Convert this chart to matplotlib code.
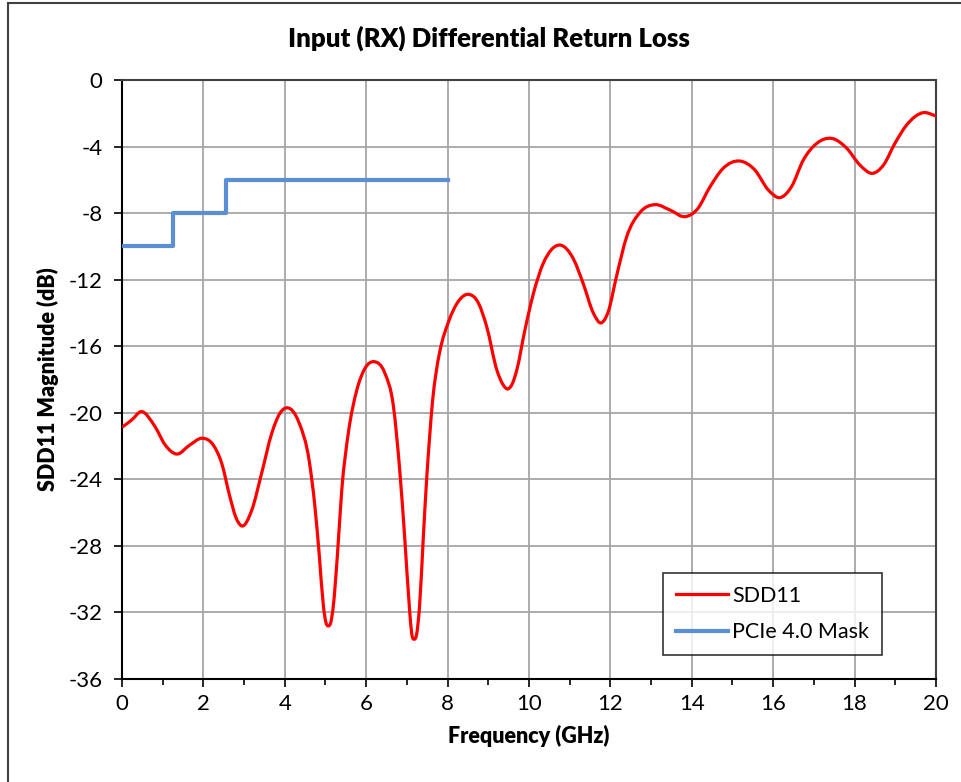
import numpy as np
import matplotlib
matplotlib.use('Agg')
matplotlib.rcParams['font.family'] = ['Lato', 'DejaVu Sans']
matplotlib.rcParams['axes.unicode_minus'] = False
import matplotlib.pyplot as plt
from matplotlib.lines import Line2D
from matplotlib.path import Path
from matplotlib.patches import PathPatch

# SDD11 (GHz, dB)
freq = [0.0, 0.24, 0.47, 0.81, 1.06, 1.34, 1.67, 1.97, 2.24, 2.45, 2.65, 2.80,
        2.94, 3.19, 3.43, 3.68, 3.88, 4.07, 4.35, 4.60, 4.74, 4.85, 4.95, 5.01,
        5.07, 5.13, 5.19, 5.29, 5.40, 5.56, 5.77, 5.97, 6.20, 6.46, 6.67, 6.83,
        6.95, 7.06, 7.12, 7.18, 7.24, 7.31, 7.40, 7.49, 7.56, 7.63, 7.71, 7.81,
        8.02, 8.26, 8.51, 8.76, 8.96, 9.21, 9.36, 9.48, 9.60, 9.70, 9.90, 10.11,
        10.35, 10.55, 10.76, 11.09, 11.33, 11.58, 11.77, 11.95, 12.15, 12.40, 12.73,
        13.10, 13.46, 13.85, 14.14, 14.45, 14.77, 15.18, 15.55, 15.88, 16.17,
        16.45, 16.74, 17.07, 17.44, 17.81, 18.13, 18.44, 18.71, 18.99, 19.28,
        19.69, 20.0]
sdd11 = [-20.87, -20.43, -19.93, -20.83, -21.93, -22.48, -21.93, -21.53, -21.93,
         -23.04, -25.04, -26.30, -26.80, -25.84, -23.64, -21.23, -20.03, -19.70,
         -20.60, -22.90, -25.64, -28.65, -31.65, -32.60, -32.81, -32.60, -31.65,
         -28.65, -24.64, -21.23, -18.63, -17.33, -16.93, -17.63, -19.63, -23.64,
         -27.64, -31.65, -33.30, -33.61, -33.30, -31.65, -27.64, -23.80, -21.40,
         -19.30, -17.70, -16.30, -14.55, -13.32, -12.88, -13.42, -14.82, -17.43,
         -18.30, -18.57, -18.20, -17.43, -15.02, -12.82, -11.02, -10.20, -9.92,
         -10.75, -12.22, -14.00, -14.60, -13.90, -11.80, -9.42, -7.95, -7.49,
         -7.81, -8.21, -7.75, -6.41, -5.31, -4.87, -5.41, -6.61, -7.07, -6.41,
         -4.81, -3.81, -3.51, -4.11, -5.11, -5.61, -5.11, -3.81, -2.70, -1.96,
         -2.16]

# PCIe 4.0 mask
mask_freq = [0, 1.25, 1.25, 2.55, 2.55, 8]
mask_db = [-10, -10, -8, -8, -6, -6]


def smooth_path(xs, ys):
    # smoothed line: cubic Bezier (Hermite) segments through every point
    x = np.asarray(xs, float)
    y = np.asarray(ys, float)
    h = np.diff(x)
    d = np.diff(y) / h
    m = np.empty_like(y)
    m[0], m[-1] = d[0], d[-1]
    m[1:-1] = (d[1:] * h[:-1] + d[:-1] * h[1:]) / (h[:-1] + h[1:])
    verts = [(x[0], y[0])]
    codes = [Path.MOVETO]
    for i in range(len(x) - 1):
        verts += [(x[i] + h[i] / 3, y[i] + m[i] * h[i] / 3),
                  (x[i + 1] - h[i] / 3, y[i + 1] - m[i + 1] * h[i] / 3),
                  (x[i + 1], y[i + 1])]
        codes += [Path.CURVE4] * 3
    return Path(verts, codes)


fig = plt.figure(figsize=(9.62, 7.82), dpi=100)
ax = fig.add_axes([122/962, 1-679/782, (936-122)/962, (679-80)/782])

red = '#FF0000'
blue = '#5A8FD6'
ax.add_patch(PathPatch(smooth_path(freq, sdd11), fill=False, edgecolor=red,
                       lw=2.3, joinstyle='round', zorder=3))
ax.plot(mask_freq, mask_db, color=blue, lw=3.0, zorder=3)

ax.set_xlim(0, 20)
ax.set_ylim(-36, 0)
ax.set_xticks(np.arange(0, 21, 2))
ax.set_xticks(np.arange(1, 20, 2), minor=True)
ax.set_yticks(np.arange(-36, 1, 4))
ax.grid(True, color='#A6A6A6', lw=1.3)
ax.set_axisbelow(True)
ax.tick_params(axis='both', which='major', direction='out', length=6, width=1.2,
               labelsize=16, pad=5)
ax.tick_params(axis='y', which='major', pad=8)
ax.tick_params(axis='x', which='minor', direction='out', length=4, width=1.2)
for s in ['left', 'bottom']:
    ax.spines[s].set_color('black')
    ax.spines[s].set_linewidth(1.5)
for s in ['top', 'right']:
    ax.spines[s].set_color('#404040')
    ax.spines[s].set_linewidth(1.5)

ax.set_xlabel('Frequency (GHz)', fontsize=15.5, fontweight='heavy', labelpad=8)
ax.set_ylabel('SDD11 Magnitude (dB)', fontsize=15.5, fontweight='heavy', labelpad=7)
fig.text(489/962, 1-38/782, 'Input (RX) Differential Return Loss', ha='center',
         va='center', fontsize=18.5, fontweight='heavy')

handles = [Line2D([], [], color=red, lw=2.3), Line2D([], [], color=blue, lw=3.0)]
leg = ax.legend(handles, ['SDD11', 'PCIe 4.0 Mask'], loc='lower left',
                bbox_to_anchor=((663-122)/814, (679-655)/599),
                fontsize=15.5, frameon=True, fancybox=False, edgecolor='black',
                handlelength=2.4, labelspacing=0.75, borderpad=0.6,
                handletextpad=0.2, borderaxespad=0)
leg.get_frame().set_linewidth(1.2)

# outer chart border (left and top)
fig.add_artist(Line2D([8/962, 8/962], [0, 1-3/782], transform=fig.transFigure,
                      color='#404040', lw=1.5))
fig.add_artist(Line2D([8/962, 1], [1-3/782, 1-3/782], transform=fig.transFigure,
                      color='#404040', lw=1.5))

fig.savefig('out.png', dpi=100)
